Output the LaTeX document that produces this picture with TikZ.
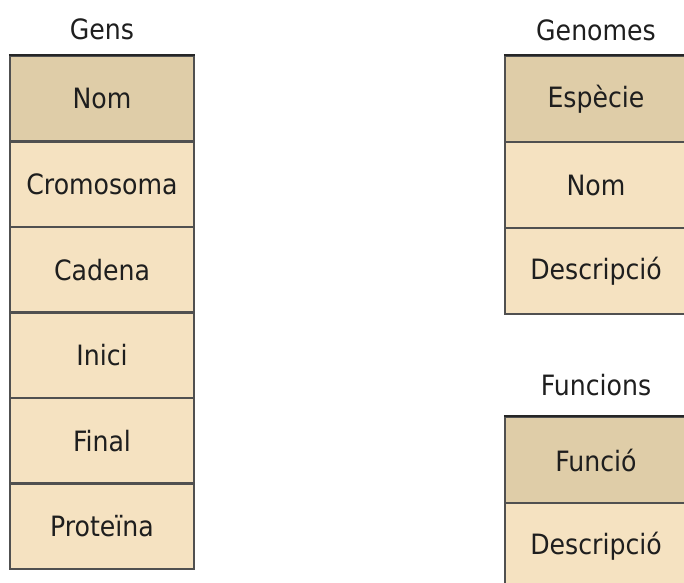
\documentclass[tikz,border=0pt]{standalone}
\usepackage{fontspec}
\setmainfont{DejaVu Sans Condensed}
\definecolor{hdr}{RGB}{223,205,168}
\definecolor{cellfill}{RGB}{245,226,193}
\definecolor{edge}{RGB}{80,80,80}
\definecolor{txt}{RGB}{30,30,30}
\tikzset{
  field/.style={draw=edge, line width=2.2pt, fill=cellfill, inner sep=0pt,
    minimum height=85.5pt, text=txt, font=\fontsize{28}{34}\selectfont},
  keyfield/.style={field, fill=hdr},
  gensbox/.style={minimum width=184pt},
  genbox/.style={minimum width=182pt},
  title/.style={text=txt, font=\fontsize{28}{34}\selectfont, inner sep=0pt}
}
\begin{document}
\begin{tikzpicture}[x=1pt,y=-1pt]
\useasboundingbox (0,0) rectangle (684,582);
\clip (0,0) rectangle (684,582);
\fill[white] (0,0) rectangle (684,582);
% Gens
\node[title] (tgens) at (102,29) {Gens};
\node[keyfield,gensbox] (g1) at (102,98.75) {Nom};
\node[field,gensbox] (g2) at (102,184.25) {Cromosoma};
\node[field,gensbox] (g3) at (102,269.75) {Cadena};
\node[field,gensbox] (g4) at (102,355.25) {Inici};
\node[field,gensbox] (g5) at (102,440.75) {Final};
\node[field,gensbox] (g6) at (102,526.25) {Proteïna};
\draw[draw=black!85, line width=2.2pt] (g1.north west) -- (g1.north east);
% Genomes
\node[title] (tgenomes) at (596,30) {Genomes};
\node[keyfield,genbox] (n1) at (596,99) {Espècie};
\node[field,genbox] (n2) at (596,185) {Nom};
\node[field,genbox] (n3) at (596,271) {Descripció};
\draw[draw=black!85, line width=2.2pt] (n1.north west) -- (n1.north east);
% Funcions
\node[title] (tfunc) at (596,385) {Funcions};
\node[keyfield,genbox] (f1) at (596,460) {Funció};
\node[field,genbox] (f2) at (596,546) {Descripció};
\draw[draw=black!85, line width=2.2pt] (f1.north west) -- (f1.north east);
\end{tikzpicture}
\end{document}
